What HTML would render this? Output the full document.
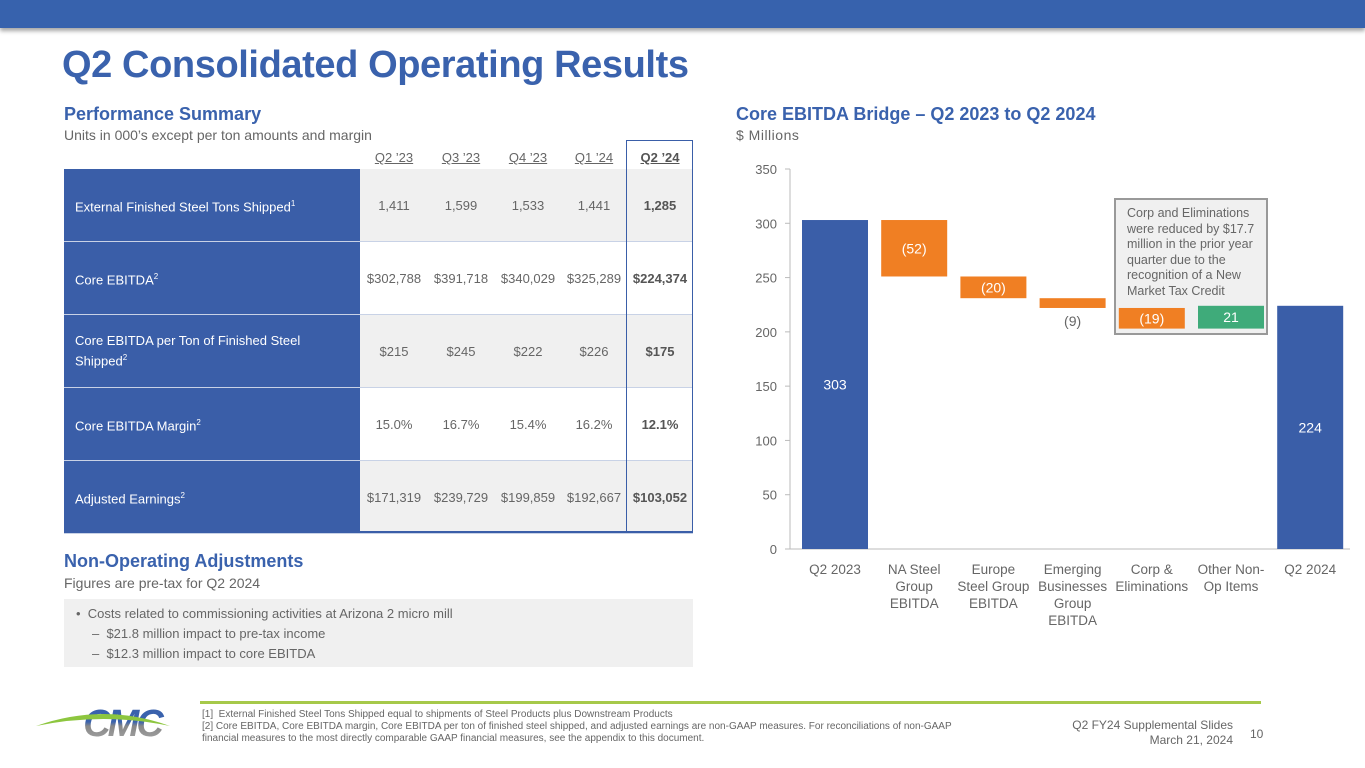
<!DOCTYPE html>
<html><head><meta charset="utf-8">
<style>
*{margin:0;padding:0;box-sizing:border-box}
body{width:1365px;height:768px;position:relative;background:#fff;font-family:"Liberation Sans",Arial,sans-serif;overflow:hidden}
.abs{position:absolute}
.topbar{left:0;top:0;width:1365px;height:28px;background:#3762ad;box-shadow:0 3px 4px rgba(0,0,0,.35)}
h1{position:absolute;left:62px;top:44px;font-size:38px;font-weight:bold;color:#3a62ad;letter-spacing:-0.4px}
.h2{font-size:18px;font-weight:bold;color:#3a62ad}
.sub{font-size:14px;color:#666}
.cell{position:absolute;font-size:13px;color:#666;text-align:center;display:flex;align-items:center;justify-content:center}
.lab{position:absolute;left:64px;width:296px;background:#3a5ea8;color:#fff;font-size:13px;padding-left:11px;display:flex;align-items:center;line-height:17px}
.lab span{max-width:245px}
sup{font-size:8px}
.hd{position:absolute;top:150px;font-size:13px;color:#666;text-decoration:underline;text-align:center;width:66px}
</style></head><body>
<div class="abs topbar"></div>
<h1>Q2 Consolidated Operating Results</h1>

<div class="abs h2" style="left:64px;top:104px">Performance Summary</div>
<div class="abs sub" style="left:64px;top:127px">Units in 000’s except per ton amounts and margin</div>

<div id="table"></div>

<div class="abs h2" style="left:64px;top:551px">Non-Operating Adjustments</div>
<div class="abs sub" style="left:64px;top:575px">Figures are pre-tax for Q2 2024</div>
<div class="abs" style="left:64px;top:599px;width:629px;height:68px;background:#f0f0f0;font-size:13px;color:#666;line-height:20px;padding:5px 12px">
<div>•&nbsp; Costs related to commissioning activities at Arizona 2 micro mill</div>
<div style="padding-left:16px">–&nbsp; $21.8 million impact to pre-tax income</div>
<div style="padding-left:16px">–&nbsp; $12.3 million impact to core EBITDA</div>
</div>

<div class="abs h2" style="left:736px;top:104px">Core EBITDA Bridge – Q2 2023 to Q2 2024</div>
<div class="abs sub" style="left:736px;top:127px;letter-spacing:.5px">$ Millions</div>

<div class="abs" style="left:1114px;top:198px;width:154px;height:137px;background:#f0f0f0;border:2px solid #999;font-size:12.5px;color:#666;line-height:15.5px;padding:6px 0 0 11px">Corp and Eliminations were reduced by $17.7 million in the prior year quarter due to the recognition of a New Market Tax Credit</div>

<svg class="abs" style="left:0;top:0" width="1365" height="768" id="chart"></svg>

<div class="abs" style="left:200px;top:701px;width:1061px;height:3px;background:#a6c94a"></div>
<div class="abs" style="left:34px;top:696px;width:140px;height:46px">
<svg width="140" height="46"><defs><linearGradient id="g" x1="0" y1="0" x2="0" y2="1"><stop offset="0.45" stop-color="#3a62ad"/><stop offset="0.55" stop-color="#888"/><stop offset="1" stop-color="#aaa"/></linearGradient></defs><text x="88" y="40" text-anchor="middle" font-size="38" font-weight="bold" font-style="italic" fill="url(#g)" font-family="Liberation Sans" letter-spacing="-3">CMC</text><path d="M2,30 Q70,6 136,30 Q70,16 2,30Z" fill="#8dc63f"/></svg></div>
<div class="abs" style="left:202px;top:709px;font-size:10px;color:#666;line-height:12px;width:760px">[1]&nbsp; External Finished Steel Tons Shipped equal to shipments of Steel Products plus Downstream Products<br>[2] Core EBITDA, Core EBITDA margin, Core EBITDA per ton of finished steel shipped, and adjusted earnings are non-GAAP measures. For reconciliations of non-GAAP financial measures to the most directly comparable GAAP financial measures, see the appendix to this document.</div>
<div class="abs" style="right:132px;top:718px;font-size:12px;color:#666;text-align:right;line-height:15px">Q2 FY24 Supplemental Slides<br>March 21, 2024</div>
<div class="abs" style="left:1250px;top:727px;font-size:12px;color:#666">10</div>

<script>
// Table
const heads=["Q2 ’23","Q3 ’23","Q4 ’23","Q1 ’24","Q2 ’24"];
const rowLabels=["External Finished Steel Tons Shipped<sup>1</sup>","Core EBITDA<sup>2</sup>","Core EBITDA per Ton of Finished Steel Shipped<sup>2</sup>","Core EBITDA Margin<sup>2</sup>","Adjusted Earnings<sup>2</sup>"];
const rowVals=[["1,411","1,599","1,533","1,441","1,285"],["$302,788","$391,718","$340,029","$325,289","$224,374"],["$215","$245","$222","$226","$175"],["15.0%","16.7%","15.4%","16.2%","12.1%"],["$171,319","$239,729","$199,859","$192,667","$103,052"]];
const colX=[361,428,495,561,627];
const t=document.getElementById('table');
let html='';
heads.forEach((h,i)=>{html+=`<div class="hd" style="left:${colX[i]}px;${i==4?'font-weight:bold;color:#555':''}">${h}</div>`;});
rowLabels.forEach((l,r)=>{
 const y=169+r*73;
 html+=`<div class="lab" style="top:${y}px;height:72px"><span>${l}</span></div>`;
 if(r%2==0) html+=`<div class="abs" style="left:360px;top:${y}px;width:333px;height:72px;background:#f0f0f0"></div>`;
 html+=`<div class="abs" style="left:64px;top:${y+72}px;width:629px;height:1px;background:#c8d2e6"></div>`;
 rowVals[r].forEach((v,i)=>{html+=`<div class="cell" style="left:${colX[i]}px;top:${y}px;width:66px;height:72px;${i==4?'font-weight:bold;color:#555':''}">${v}</div>`;});
});
html+=`<div class="abs" style="left:626px;top:140px;width:67px;height:392px;border:1.5px solid #3a5ea8"></div>`;
html+=`<div class="abs" style="left:360px;top:531px;width:333px;height:1.5px;background:#3a5ea8"></div>`;
t.innerHTML=html;

// Chart
const cats=["Q2 2023","NA Steel|Group|EBITDA","Europe|Steel Group|EBITDA","Emerging|Businesses|Group|EBITDA","Corp &|Eliminations","Other Non-|Op Items","Q2 2024"];
const deltas=[303,-52,-20,-9,-19,21,224];
const labels=["303","(52)","(20)","(9)","(19)","21","224"];
const yTicks=[0,50,100,150,200,250,300,350];
const svg=document.getElementById('chart');
const NS='http://www.w3.org/2000/svg';
const y0=549,y1=169,vmax=350;
const yS=v=>y0-(v/vmax)*(y0-y1);
const xC=i=>835+i*79.2;
const bw=66;
function mk(tag,a,txt){const e=document.createElementNS(NS,tag);for(const k in a)e.setAttribute(k,a[k]);if(txt!=null)e.textContent=txt;svg.appendChild(e);return e;}
let e=mk('line',{x1:790,y1:y0,x2:1350,y2:y0,stroke:'#bbb'});

e=mk('line',{x1:790,y1:y1,x2:790,y2:y0,stroke:'#bbb'});

yTicks.forEach(v=>{
 mk('line',{x1:785,x2:790,y1:yS(v),y2:yS(v),stroke:'#bbb'});
 const tx=mk('text',{x:777,y:yS(v)+5,'text-anchor':'end','font-size':13,fill:'#666'},String(v));
 
});
let run=0;
deltas.forEach((d,i)=>{
 let lo,hi,fill;
 if(i==0||i==deltas.length-1){lo=0;hi=d;run=d;fill='#3a5ea8';}
 else{const s=run;run=run+d;lo=Math.min(s,run);hi=Math.max(s,run);fill=d<0?'#f07f23':'#3fab7a';}
 const r=mk('rect',{x:xC(i)-bw/2,y:yS(hi),width:bw,height:yS(lo)-yS(hi),fill});
 
 let ly,col='#fff';
 if(i==0||i==deltas.length-1){ly=yS(hi*0.5)+5;}
 else if(hi-lo<12){ly=yS(lo)+18;col='#666';}
 else ly=(yS(hi)+yS(lo))/2+5;
 const lt=mk('text',{x:xC(i),y:ly,'text-anchor':'middle','font-size':14,fill:col},labels[i]);
 
 cats[i].split('|').forEach((p,k)=>{
  const ct=mk('text',{x:xC(i),y:574+k*17,'text-anchor':'middle','font-size':13.5,fill:'#666'},p);
  
 });
});
</script>
</body></html>
